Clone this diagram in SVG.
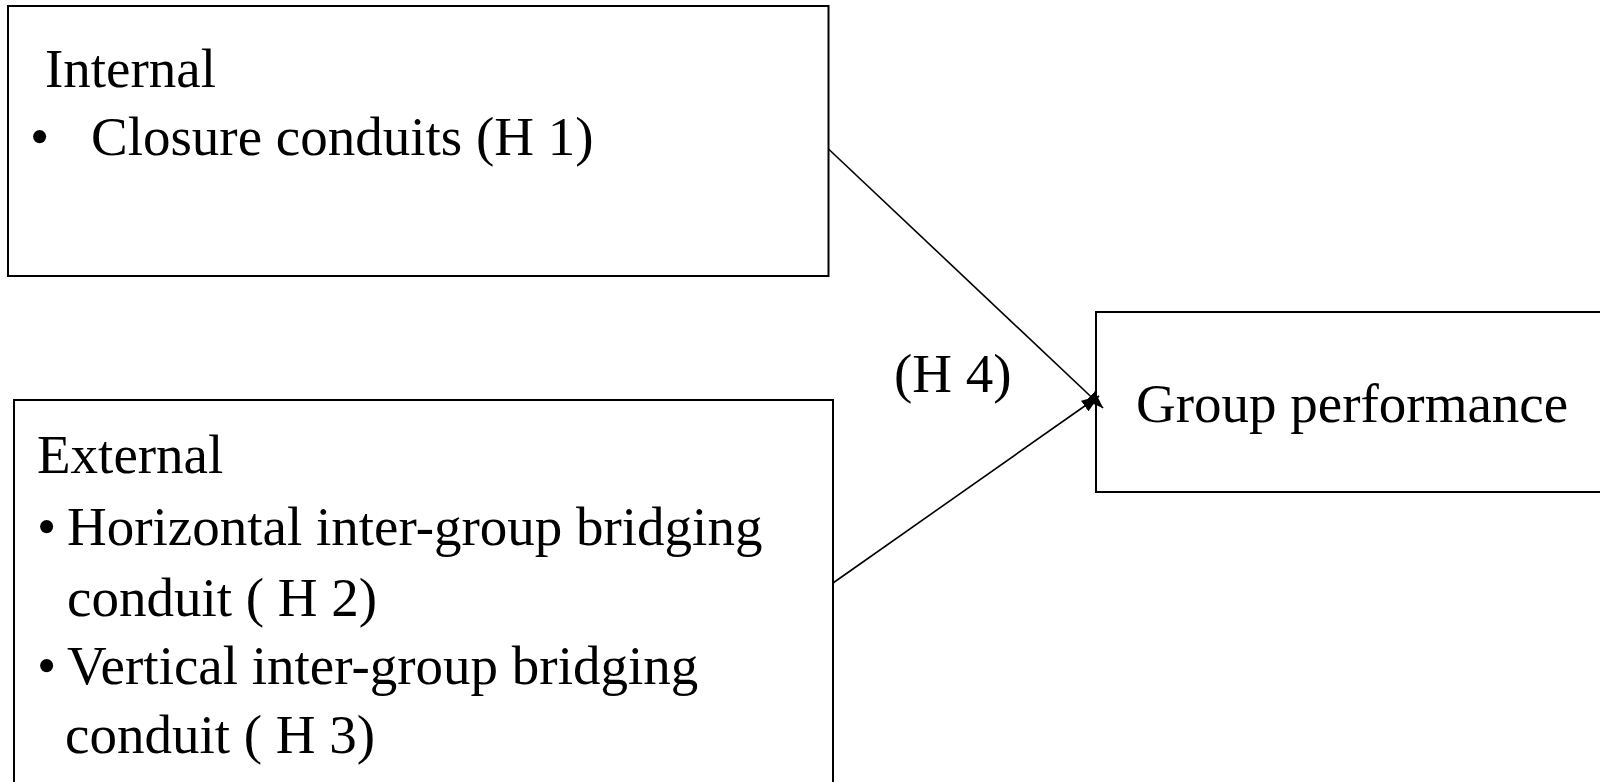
<svg xmlns="http://www.w3.org/2000/svg" width="1600" height="782" viewBox="0 0 1600 782">
  <style>
    .box { fill: #ffffff; stroke: #000000; stroke-width: 2; }
    .lbl { font-family: "Liberation Serif", "Times New Roman", serif; font-size: 55px; fill: #000000; }
    .conn { stroke: #000000; stroke-width: 1.6; fill: none; }
  </style>
  <defs>
    <marker id="arrow" viewBox="0 0 18 13" refX="17.5" refY="6.5" markerWidth="18" markerHeight="13" markerUnits="userSpaceOnUse" orient="auto">
      <path d="M0,0 L18,6.5 L0,13 z" fill="#000000"/>
    </marker>
  </defs>
  <rect width="1600" height="782" fill="#ffffff"/>

  <g id="internal">
    <rect class="box" x="8" y="6" width="820.5" height="270"/>
    <text class="lbl" x="45" y="87">Internal</text>
    <text class="lbl" x="30" y="155">•</text>
    <text class="lbl" x="91" y="155">Closure conduits (H 1)</text>
  </g>

  <g id="external">
    <rect class="box" x="14" y="400" width="819" height="400"/>
    <text class="lbl" x="37" y="473">External</text>
    <text class="lbl" x="37" y="545">•</text>
    <text class="lbl" x="67" y="545">Horizontal inter-group bridging</text>
    <text class="lbl" x="67" y="616">conduit ( H 2)</text>
    <text class="lbl" x="37" y="684">•</text>
    <text class="lbl" x="67" y="684">Vertical inter-group bridging</text>
    <text class="lbl" x="65" y="753">conduit ( H 3)</text>
  </g>

  <g id="performance">
    <rect class="box" x="1096" y="312" width="520" height="180"/>
    <text class="lbl" x="1136" y="422">Group performance</text>
  </g>

  <g id="connectors">
    <line class="conn" x1="828.5" y1="149" x2="1103" y2="408" marker-end="url(#arrow)"/>
    <line class="conn" x1="833" y1="583" x2="1099" y2="396" marker-end="url(#arrow)"/>
    <text class="lbl" x="894" y="392">(H 4)</text>
  </g>
</svg>
